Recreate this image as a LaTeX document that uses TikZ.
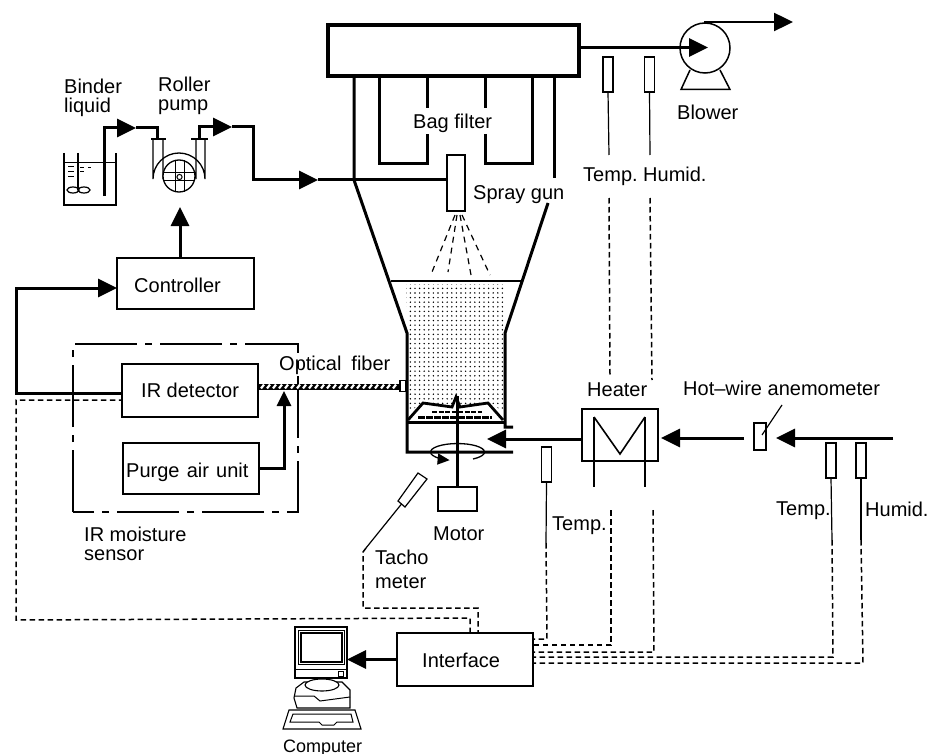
\documentclass[tikz,border=0pt]{standalone}
\usepackage{fontspec}
\setmainfont{Liberation Sans}
\usetikzlibrary{patterns,arrows.meta,calc}
\pgfdeclarepatternformonly{sdots}{\pgfqpoint{-1pt}{-1pt}}{\pgfqpoint{4pt}{4pt}}{\pgfqpoint{4.6pt}{4.6pt}}{\pgfpathcircle{\pgfqpoint{1pt}{1pt}}{0.8pt}\pgfusepath{fill}}
\tikzset{
 thickline/.style={line width=3pt},
 wall/.style={line width=3pt},
 wire/.style={line width=1.2pt},
 box/.style={draw,line width=1.5pt,fill=white,inner sep=0pt,outer sep=0pt},
 sensor/.style={box,minimum width=10,minimum height=35},
 sig/.style={line width=1.5pt,dash pattern=on 5.5pt off 3.5pt},
 lbl/.style={font=\fontsize{20pt}{22pt}\selectfont,inner sep=0pt,anchor=base west},
 two/.style={lbl,align=left,font=\fontsize{20pt}{#1}\selectfont},
 flow/.style={line width=3pt,-{Triangle[length=19pt,width=18pt]}},
 smallflow/.style={line width=3pt,-{Triangle[length=15pt,width=14pt]}},
 plain/.style={line width=3pt},
}
\begin{document}
\begin{tikzpicture}[x=1pt,y=-1pt,line join=miter]
\useasboundingbox (0,0) rectangle (928,754);
\fill[white] (0,0) rectangle (928,754);

% ---------- stipple of the bed
\fill[pattern=sdots] (406,284) -- (504,284) -- (504,412) -- (488,402) -- (460,408) -- (456,396) -- (452,408) -- (423,402) -- (409,412) -- cycle;

% ---------- filter housing
\node[draw,line width=3.2pt,fill=white,inner sep=0pt,outer sep=0pt,minimum width=251,minimum height=51] (house) at (453.5,50.5) {};
\draw[wall] (354,77) -- (354,180) -- (407,333) -- (407,452) -- (513,452);
\draw[wall] (554,77) -- (554,178);
\draw[wall] (548,203) -- (505,333) -- (505,427) -- (513,427);
\draw[wall] (379,77) -- (379,164) -- (427,164) -- (427,134);
\draw[wall] (427,77) -- (427,108);
\draw[wall] (485,77) -- (485,108);
\draw[wall] (485,134) -- (485,164) -- (532,164) -- (532,77);
\draw[line width=1.1pt] (391,281) -- (522,281);

% distributor
\draw[line width=3pt] (407,422) -- (505,422);
\draw[line width=2.4pt,dash pattern=on 7pt off 1pt] (418,417.5) -- (492,417.5);
\draw[line width=1.5pt,dash pattern=on 5pt off 1.5pt] (432,412) -- (482,412);
\draw[line width=2.8pt] (408,420) -- (423,403) -- (452,407) -- (456,397) -- (460,407) -- (488,403) -- (503,420);

% ---------- spray gun and pipe
\node[box,minimum width=18,minimum height=56] (gun) at (456,183) {};
\foreach \xa/\xb/\yb in {455/432/272,457/448/272,460/471/275,462/490/275}
  \draw[line width=1.2pt,dash pattern=on 6pt off 5pt] (\xa,215) -- (\xb,\yb);

% ---------- beaker
\draw[line width=1.2pt] (64,153) -- (64,205) -- (116,205) -- (116,153);
\draw[line width=1pt] (64,163) -- (116,163);
\draw[line width=1.2pt] (78,153) -- (78,190);
\draw[line width=1.2pt] (73,190) ellipse (6 and 3) (84,190) ellipse (6 and 3);
\foreach \yy in {167,172,177} \draw[line width=1pt] (68,\yy) -- (74,\yy);
\foreach \yy in {168,172} \draw[line width=1pt] (80,\yy) -- (84,\yy);
\draw[line width=1pt] (88,168) -- (91,168);

% ---------- roller pump
\draw[line width=1.3pt] (153,139) -- (153,179) arc (180:360:26) -- (205,139);
\draw[line width=1.3pt] (163,139) -- (163,179) arc (180:360:16.5) -- (196,139);
\node[draw,circle,line width=1.3pt,fill=white,minimum size=32,inner sep=0pt,outer sep=0pt] (wheel) at (179,176) {};
\draw[line width=1pt] (164,173) -- (194,173) (164,181) -- (194,181) (175,160) -- (175,192) (184,160) -- (184,192);
\draw[line width=1pt,fill=white] (179.5,177) circle (2.6);
\draw[line width=2pt] (151,139) -- (166,139) (191,139) -- (208,139);
\coordinate (inA) at (157,139);
\coordinate (outA) at (199,139);
\coordinate (dip) at (104,196);
\draw[plain] (dip) -- (104,128) -- (117,128);
\draw[flow] (117,128) -- (136,128);
\draw[plain] (136,128) -- (157,128) -- (inA);
\draw[plain] (outA) -- (199,127) -- (213,127);
\draw[flow] (213,127) -- (232,127);
\draw[plain] (232,127) -- (253,127) -- (253,180) -- (299,180);
\draw[flow] (299,180) -- (318,180);
\draw[wall] (318,180) -- (gun.west |- 0,180);

% ---------- controller and sensor
\node[box,minimum width=137,minimum height=51] (ctrl) at (185.5,283.5) {};
\draw[flow] (ctrl.north -| 180,0) -- (180,207);
\node[box,minimum width=136,minimum height=53] (ir) at (190,390.5) {};
\node[box,minimum width=136,minimum height=51] (purge) at (191,468.5) {};
\coordinate (loopA) at (16,393);
\coordinate (loopB) at (16,288);
\draw[plain] (ir.west |- loopA) -- (loopA) -- (loopB) -- (97,288);
\draw[flow] (97,288) -- (ctrl.west |- loopB);
\draw[line width=1.2pt,dash pattern=on 62pt off 8pt on 7pt off 8pt] (73,512) -- (73,344) -- (298,344) -- (298,512) -- cycle;

% optical fibre
\node[draw,line width=1.2pt,fill=white,inner sep=0pt,outer sep=0pt,minimum width=6,minimum height=11] (port) at (403,386) {};
\fill[black] (ir.east |- 0,383.5) rectangle (port.west |- 0,389.5);
\foreach \xf in {261,267,...,396} \draw[white,line width=2.2pt] (\xf,388.4) -- (\xf+3,384.6);
\draw[line width=3pt] (purge.east |- 0,468) -- (284,468) -- (284,406);
\draw[smallflow] (284,406) -- (284,391);

% ---------- fluidised bed underside
\draw[line width=3pt] (457,396) -- (457,487);
\node[draw,line width=2.4pt,fill=white,inner sep=0pt,outer sep=0pt,minimum width=39,minimum height=24] (motor) at (457.5,499) {};
\draw[line width=1.3pt,-{Triangle[length=12pt,width=11pt]}] (473,459) arc (55:-253:27 and 8.5);
\draw[line width=1.2pt,fill=white] (418,473) -- (427,479) -- (405,507) -- (398,501) -- cycle;
\coordinate (probe) at (401.5,504);
\coordinate (tachA) at (366,548);
\draw[wire] (probe) -- (tachA);

% ---------- heater
\node[box,minimum width=76,minimum height=52] (heater) at (620,435) {};
\draw[line width=1.6pt] (594,417) -- (620,454) -- (645,417);
\draw[wire] (594,417) -- (594,487) (645,417) -- (645,487);
\node[box,minimum width=12,minimum height=27] (hot) at (760,436.5) {};
\draw[wire] (782,405) -- (762,435);
\coordinate (inlet) at (893,438);
\draw[plain] (inlet) -- (795,438);
\draw[flow] (795,438) -- (776,438);
\draw[plain] (744,438) -- (681,438);
\draw[flow] (681,438) -- (661,438);
\draw[plain] (heater.west |- 0,439) -- (508,439);
\draw[flow] (508,439) -- (487,439);

% ---------- blower
\node[draw,circle,line width=1.5pt,fill=white,minimum size=50,inner sep=0pt,outer sep=0pt] (blower) at (705,48) {};
\draw[line width=1.5pt] (690,70) -- (681,89.5) -- (730,89.5) -- (720,70);
\draw[plain] (house.east |- 0,47.5) -- (688,47.5);
\draw[flow] (688,47.5) -- (708,47.5);
\draw[line width=2.4pt] (704,22) -- (773,22);
\draw[flow,line width=2.4pt] (773,22) -- (793,22);

% ---------- sensors
\node[sensor] (s1) at (608,74.5) {};
\node[sensor] (s2) at (649.5,74.5) {};
\node[sensor] (s3) at (546.5,464.5) {};
\node[sensor] (s4) at (831,460.5) {};
\node[sensor] (s5) at (861,460.5) {};
\coordinate (s1a) at (609,155);
\coordinate (s2a) at (650,155);
\draw[wire] (s1.south) -- (s1a);
\draw[wire] (s2.south) -- (s2a);
\draw[wire] (s3.south) -- (546,543);
\draw[wire] (s4.south) -- (832,540);
\draw[wire] (s5.south) -- (861,540);

% ---------- interface and signals
\node[box,minimum width=136,minimum height=53] (iface) at (465,659.5) {};
\draw[sig] (609,198) -- (610,375);
\draw[sig] (650,198) -- (652,380);
\draw[sig] (611,510) -- (611,645) -- (iface.east |- 0,645);
\draw[sig] (653,510) -- (654,652) -- (iface.east |- 0,652);
\draw[sig] (546,543) -- (547,639) -- (iface.east |- 0,639);
\draw[sig] (832,540) -- (833,657) -- (iface.east |- 0,657);
\draw[sig] (861,540) -- (863,663) -- (iface.east |- 0,663);
\draw[sig] (tachA) -- (363,552) -- (363,608) -- (478,608) -- (iface.north -| 478,0);
\draw[sig] (iface.north -| 470,0) -- (470,618) -- (16,620) -- (16,400) -- (ir.west |- 0,400);

% ---------- computer
\node[box,line width=1.2pt,minimum width=52,minimum height=51] (mon) at (321,652.5) {};
\draw[line width=1pt] (298,630) rectangle (344,664);
\draw[line width=2pt,fill=white] (301,633) rectangle (342,662);
\draw[line width=1pt] (338,671) rectangle (343,676);
\draw[line width=1pt] (295,669) -- (347,669);
\draw[line width=1.1pt] (297,708) -- (294,698) -- (296,688) -- (304,682) -- (342,682) -- (350,690) -- (350,708) -- cycle;
\draw[line width=1.1pt,fill=white] (322,685) ellipse (17 and 6);
\draw[line width=1pt] (294,696) -- (314,696) -- (320,701) -- (350,697);
\draw[line width=1.1pt,fill=white] (289,710) -- (355,710) -- (361,729) -- (283,729) -- cycle;
\draw[line width=1pt] (293,714) -- (351,714) -- (353,722) -- (337,722) -- (334,725) -- (322,725) -- (319,722) -- (290,722) -- cycle;
\draw[plain] (iface.west) -- (368,659.5);
\draw[flow] (368,659.5) -- (mon.east |- 0,659.5);

% ---------- labels
\node[two=19pt,anchor=north west] (tBinder) at (64,79) {Binder\\liquid};
\node[two=19pt,anchor=north west] (tRoller) at (158,77) {Roller\\pump};
\node[lbl] (tBag) at (413,129) {Bag filter};
\node[lbl] (tSpray) at (473,199) {Spray gun};
\node[lbl] (tBlower) at (677,120) {Blower};
\node[lbl] (tT1) at (583,182) {Temp.};
\node[lbl] (tH1) at (643,182) {Humid.};
\node[lbl] (tCtrl) at (134,292) {Controller};
\node[lbl] (tFiber) at (279,370) {\spaceskip=0.5em Optical fiber};
\node[lbl] (tIR) at (141,397) {IR detector};
\node[lbl] (tPurge) at (126,477) {\spaceskip=0.36em Purge air unit};
\node[two=19pt,anchor=north west] (tMoist) at (84,527) {IR moisture\\sensor};
\node[lbl] (tHeater) at (587,396) {Heater};
\node[lbl] (tHot) at (683,395) {Hot–wire anemometer};
\node[lbl] (tT2) at (552,530) {Temp.};
\node[lbl] (tT3) at (776,515) {Temp.};
\node[lbl] (tH3) at (865,516) {Humid.};
\node[lbl] (tMotor) at (433,540) {Motor};
\node[two=24pt,anchor=north west] (tTacho) at (375,550) {Tacho\\meter};
\node[lbl] (tIface) at (422,667) {Interface};
\node[lbl,font=\fontsize{18pt}{20pt}\selectfont] (tComp) at (283,752) {Computer};
\end{tikzpicture}
\end{document}
